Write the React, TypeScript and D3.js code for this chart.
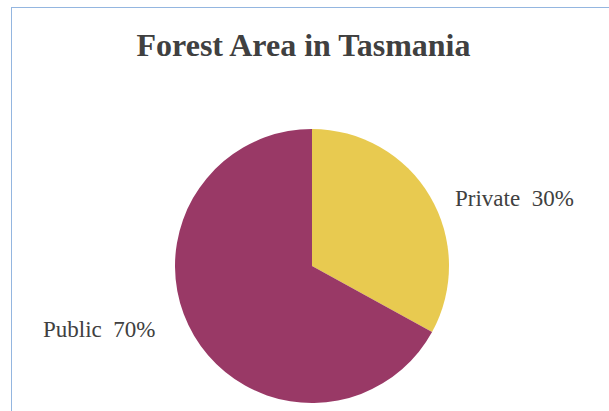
import React from "react";
import * as d3 from "d3";

const categories = ["Private", "Public"];
const values = [33, 67];
const labelTexts = ["Private  30%", "Public  70%"];
const colors = ["#e8ca50", "#993966"];
const title = "Forest Area in Tasmania";

export default function App() {
  const W = 609, H = 411;
  const cx = 312, cy = 266, r = 137;
  const pie = d3.pie<number>().sort(null).value((d) => d)(values);
  const arc = d3.arc<d3.PieArcDatum<number>>().innerRadius(0).outerRadius(r);
  const labelPos = [
    { x: 455, y: 206, anchor: "start" },
    { x: 43, y: 336.5, anchor: "start" },
  ];
  return (
    <svg
      width={W}
      height={H}
      style={{ position: "absolute", left: 0, top: 0, display: "block" }}
    >
      <rect x={0} y={0} width={W} height={H} fill="#ffffff" />
      <rect x={11.5} y={7.5} width={W + 20} height={H + 20} fill="none" stroke="#94b6e0" strokeWidth={1} />
      <text
        x={303.5}
        y={56}
        textAnchor="middle"
        fontFamily="'Liberation Serif', 'Times New Roman', serif"
        fontWeight="bold"
        fontSize={32}
        fill="#404040"
      >
        {title}
      </text>
      <g transform={`translate(${cx},${cy})`}>
        {pie.map((p, i) => (
          <path key={categories[i]} d={arc(p) || ""} fill={colors[i]} />
        ))}
      </g>
      {labelTexts.map((t, i) => (
        <text
          key={t}
          x={labelPos[i].x}
          y={labelPos[i].y}
          textAnchor={labelPos[i].anchor as any}
          fontFamily="'Liberation Serif', 'Times New Roman', serif"
          fontSize={23}
          fill="#404040"
          style={{ whiteSpace: "pre" }}
        >
          {t}
        </text>
      ))}
    </svg>
  );
}
